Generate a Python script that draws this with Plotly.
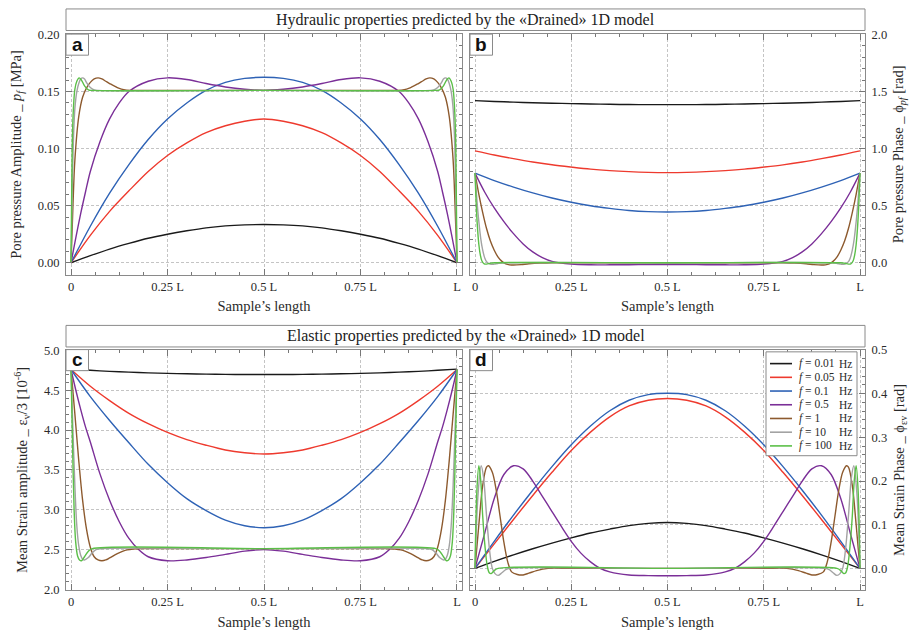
import plotly.graph_objects as go

W, H = 913, 642

# ---------------- data ----------------
XA = [0, 0.05, 0.1, 0.15, 0.2, 0.25, 0.3, 0.35, 0.4, 0.45, 0.5,
      0.55, 0.6, 0.65, 0.7, 0.75, 0.8, 0.85, 0.9, 0.95, 1.0]

FREQ_VALUES = ["0.01", "0.05", "0.1", "0.5", "1", "10", "100"]
FREQ_UNIT = "Hz"

# Panel a: pore pressure amplitude [MPa]
a_black = [0, 0.0062, 0.012, 0.017, 0.0215, 0.025, 0.028, 0.0306, 0.0323, 0.0332, 0.0335,
           0.0332, 0.0323, 0.0306, 0.028, 0.025, 0.0215, 0.017, 0.012, 0.0062, 0]
a_red = [0, 0.024, 0.045, 0.063, 0.080, 0.094, 0.105, 0.114, 0.120, 0.124, 0.126,
         0.124, 0.120, 0.114, 0.105, 0.094, 0.080, 0.063, 0.045, 0.024, 0]
a_blue = [0, 0.032, 0.061, 0.086, 0.108, 0.126, 0.140, 0.151, 0.158, 0.1615, 0.1625,
          0.1615, 0.158, 0.151, 0.140, 0.126, 0.108, 0.086, 0.061, 0.032, 0]
a_purple_x = [0, 0.0125, 0.025, 0.0375, 0.05, 0.075, 0.1, 0.125, 0.15, 0.2, 0.25, 0.3, 0.35, 0.4, 0.45, 0.5,
              0.55, 0.6, 0.65, 0.7, 0.75, 0.8, 0.85, 0.875, 0.9, 0.925, 0.95, 0.9625, 0.975, 0.9875, 1]
a_purple = [0, 0.022, 0.043, 0.062, 0.080, 0.106, 0.126, 0.140, 0.150, 0.159, 0.162, 0.1605, 0.157, 0.154, 0.152, 0.151,
            0.152, 0.154, 0.157, 0.1605, 0.162, 0.159, 0.150, 0.140, 0.126, 0.106, 0.080, 0.062, 0.043, 0.022, 0]
a_brown_x = [0, 0.005, 0.01, 0.02, 0.03, 0.04, 0.05, 0.06, 0.07, 0.08, 0.09, 0.1, 0.12, 0.14, 0.17, 0.2, 0.5,
             0.8, 0.83, 0.86, 0.88, 0.9, 0.91, 0.92, 0.93, 0.94, 0.95, 0.96, 0.97, 0.98, 0.99, 0.995, 1]
a_brown = [0, 0.05, 0.09, 0.128, 0.145, 0.153, 0.158, 0.161, 0.162, 0.161, 0.159, 0.157, 0.1535, 0.1515, 0.151, 0.151, 0.151,
           0.151, 0.151, 0.1515, 0.1535, 0.157, 0.159, 0.161, 0.162, 0.161, 0.158, 0.153, 0.145, 0.128, 0.09, 0.05, 0]
a_gray_x = [0, 0.003, 0.006, 0.01, 0.015, 0.02, 0.025, 0.03, 0.035, 0.04, 0.05, 0.06, 0.07, 0.5,
            0.93, 0.94, 0.95, 0.96, 0.965, 0.97, 0.975, 0.98, 0.985, 0.99, 0.994, 0.997, 1]
a_gray = [0, 0.06, 0.105, 0.135, 0.150, 0.157, 0.161, 0.162, 0.161, 0.158, 0.1535, 0.1515, 0.151, 0.151,
          0.151, 0.1515, 0.1535, 0.158, 0.161, 0.162, 0.161, 0.157, 0.150, 0.135, 0.105, 0.06, 0]
a_green_x = [0, 0.002, 0.004, 0.007, 0.01, 0.015, 0.021, 0.027, 0.035, 0.045, 0.055, 0.5,
             0.945, 0.955, 0.965, 0.973, 0.979, 0.985, 0.99, 0.993, 0.996, 0.998, 1]
a_green = [0, 0.07, 0.115, 0.14, 0.152, 0.159, 0.162, 0.160, 0.155, 0.1515, 0.151, 0.151,
           0.151, 0.1515, 0.155, 0.160, 0.162, 0.159, 0.152, 0.14, 0.115, 0.07, 0]

# Panel b: pore pressure phase [rad]
b_black = [1.42, 1.413, 1.407, 1.402, 1.398, 1.394, 1.391, 1.388, 1.386, 1.385, 1.385,
           1.385, 1.386, 1.388, 1.391, 1.394, 1.398, 1.402, 1.407, 1.413, 1.42]
b_red = [0.98, 0.944, 0.912, 0.883, 0.858, 0.838, 0.820, 0.807, 0.798, 0.792, 0.790,
         0.792, 0.798, 0.807, 0.820, 0.838, 0.858, 0.883, 0.912, 0.944, 0.98]
b_blue = [0.785, 0.72, 0.663, 0.612, 0.567, 0.530, 0.499, 0.476, 0.458, 0.448, 0.445,
          0.448, 0.458, 0.476, 0.499, 0.530, 0.567, 0.612, 0.663, 0.72, 0.785]
b_purple_x = [0, 0.025, 0.05, 0.075, 0.1, 0.125, 0.15, 0.175, 0.2, 0.25, 0.3, 0.35, 0.4, 0.45, 0.5,
              0.55, 0.6, 0.65, 0.7, 0.75, 0.8, 0.825, 0.85, 0.875, 0.9, 0.925, 0.95, 0.975, 1]
b_purple = [0.785, 0.62, 0.48, 0.36, 0.255, 0.165, 0.095, 0.045, 0.012, -0.012, -0.018, -0.018, -0.017, -0.016, -0.015,
            -0.016, -0.017, -0.018, -0.018, -0.012, 0.012, 0.045, 0.095, 0.165, 0.255, 0.36, 0.48, 0.62, 0.785]
b_brown_x = [0, 0.01, 0.02, 0.03, 0.04, 0.05, 0.06, 0.07, 0.08, 0.09, 0.1, 0.12, 0.14, 0.17, 0.2, 0.5,
             0.8, 0.83, 0.86, 0.88, 0.9, 0.91, 0.92, 0.93, 0.94, 0.95, 0.96, 0.97, 0.98, 0.99, 1]
b_brown = [0.785, 0.6, 0.44, 0.3, 0.19, 0.11, 0.05, 0.012, -0.01, -0.018, -0.02, -0.016, -0.009, -0.003, 0, 0,
           0, -0.003, -0.009, -0.016, -0.02, -0.018, -0.01, 0.012, 0.05, 0.11, 0.19, 0.3, 0.44, 0.6, 0.785]
b_gray_x = [0, 0.005, 0.01, 0.015, 0.02, 0.025, 0.03, 0.04, 0.05, 0.06, 0.08, 0.5,
            0.92, 0.94, 0.95, 0.96, 0.97, 0.975, 0.98, 0.985, 0.99, 0.995, 1]
b_gray = [0.785, 0.55, 0.36, 0.21, 0.11, 0.045, 0.01, -0.012, -0.012, -0.006, 0, 0,
          0, -0.006, -0.012, -0.012, 0.01, 0.045, 0.11, 0.21, 0.36, 0.55, 0.785]
b_green_x = [0, 0.003, 0.006, 0.01, 0.014, 0.018, 0.024, 0.03, 0.04, 0.05, 0.5,
             0.95, 0.96, 0.97, 0.976, 0.982, 0.986, 0.99, 0.994, 0.997, 1]
b_green = [0.785, 0.52, 0.33, 0.16, 0.065, 0.015, -0.01, -0.012, -0.004, 0, 0,
           0, -0.004, -0.012, -0.01, 0.015, 0.065, 0.16, 0.33, 0.52, 0.785]

# Panel c: mean strain amplitude [1e-6]
c_black = [4.765, 4.75, 4.737, 4.727, 4.718, 4.711, 4.706, 4.702, 4.699, 4.698, 4.698,
           4.698, 4.699, 4.702, 4.706, 4.711, 4.718, 4.727, 4.737, 4.75, 4.765]
c_red = [4.76, 4.55, 4.37, 4.21, 4.08, 3.97, 3.88, 3.81, 3.75, 3.715, 3.70,
         3.715, 3.75, 3.81, 3.88, 3.97, 4.08, 4.21, 4.37, 4.55, 4.76]
c_blue = [4.76, 4.42, 4.12, 3.84, 3.57, 3.34, 3.14, 2.99, 2.87, 2.80, 2.775,
          2.80, 2.87, 2.99, 3.14, 3.34, 3.57, 3.84, 4.12, 4.42, 4.76]
c_purple_x = [0, 0.0125, 0.025, 0.0375, 0.05, 0.075, 0.1, 0.125, 0.15, 0.175, 0.2, 0.25, 0.3, 0.35, 0.4, 0.45, 0.5,
              0.55, 0.6, 0.65, 0.7, 0.75, 0.8, 0.825, 0.85, 0.875, 0.9, 0.925, 0.95, 0.9625, 0.975, 0.9875, 1]
c_purple = [4.76, 4.5, 4.26, 4.04, 3.85, 3.45, 3.12, 2.85, 2.64, 2.50, 2.41, 2.36, 2.37, 2.40, 2.44, 2.48, 2.50,
            2.48, 2.44, 2.40, 2.37, 2.36, 2.41, 2.50, 2.64, 2.85, 3.12, 3.45, 3.85, 4.04, 4.26, 4.5, 4.76]
c_brown_x = [0, 0.01, 0.02, 0.03, 0.04, 0.05, 0.06, 0.07, 0.08, 0.09, 0.1, 0.12, 0.14, 0.17, 0.2, 0.5,
             0.8, 0.83, 0.86, 0.88, 0.9, 0.91, 0.92, 0.93, 0.94, 0.95, 0.96, 0.97, 0.98, 0.99, 1]
c_brown = [4.76, 4.2, 3.62, 3.12, 2.76, 2.53, 2.41, 2.37, 2.36, 2.37, 2.395, 2.45, 2.49, 2.51, 2.512, 2.512,
           2.512, 2.51, 2.49, 2.45, 2.395, 2.37, 2.36, 2.37, 2.41, 2.53, 2.76, 3.12, 3.62, 4.2, 4.76]
c_gray_x = [0, 0.005, 0.01, 0.015, 0.02, 0.025, 0.03, 0.035, 0.045, 0.055, 0.065, 0.08, 0.5,
            0.92, 0.935, 0.945, 0.955, 0.965, 0.97, 0.975, 0.98, 0.985, 0.99, 0.995, 1]
c_gray = [4.76, 4.0, 3.3, 2.8, 2.55, 2.43, 2.38, 2.37, 2.40, 2.46, 2.50, 2.512, 2.512,
          2.512, 2.50, 2.46, 2.40, 2.37, 2.38, 2.43, 2.55, 2.8, 3.3, 4.0, 4.76]
c_green_x = [0, 0.004, 0.008, 0.012, 0.017, 0.022, 0.027, 0.035, 0.045, 0.055, 0.5,
             0.945, 0.955, 0.965, 0.973, 0.978, 0.983, 0.988, 0.992, 0.996, 1]
c_green = [4.76, 3.8, 3.0, 2.6, 2.42, 2.37, 2.36, 2.41, 2.48, 2.512, 2.512,
           2.512, 2.48, 2.41, 2.36, 2.37, 2.42, 2.6, 3.0, 3.8, 4.76]

# Panel d: mean strain phase [rad]
d_black = [0, 0.016, 0.031, 0.045, 0.058, 0.070, 0.081, 0.090, 0.098, 0.103, 0.105,
           0.103, 0.098, 0.090, 0.081, 0.070, 0.058, 0.045, 0.031, 0.016, 0]
d_red = [0, 0.056, 0.112, 0.167, 0.220, 0.270, 0.312, 0.347, 0.372, 0.385, 0.389,
         0.385, 0.372, 0.347, 0.312, 0.270, 0.220, 0.167, 0.112, 0.056, 0]
d_blue = [0, 0.062, 0.122, 0.179, 0.233, 0.283, 0.326, 0.361, 0.385, 0.398, 0.401,
          0.398, 0.385, 0.361, 0.326, 0.283, 0.233, 0.179, 0.122, 0.062, 0]
d_purple_x = [0, 0.025, 0.05, 0.075, 0.1, 0.125, 0.15, 0.175, 0.2, 0.225, 0.25, 0.275, 0.3, 0.325, 0.35, 0.4, 0.45, 0.5,
              0.55, 0.6, 0.65, 0.675, 0.7, 0.725, 0.75, 0.775, 0.8, 0.825, 0.85, 0.875, 0.9, 0.925, 0.95, 0.975, 1]
d_purple = [0, 0.08, 0.16, 0.215, 0.235, 0.228, 0.20, 0.165, 0.13, 0.095, 0.062, 0.035, 0.015, 0.0, -0.008, -0.015, -0.0165, -0.017,
            -0.0165, -0.015, -0.008, 0.0, 0.015, 0.035, 0.062, 0.095, 0.13, 0.165, 0.20, 0.228, 0.235, 0.215, 0.16, 0.08, 0]
d_brown_x = [0, 0.01, 0.02, 0.03, 0.035, 0.045, 0.055, 0.065, 0.075, 0.085, 0.095, 0.11, 0.125, 0.14, 0.16, 0.19, 0.25, 0.5,
             0.75, 0.81, 0.84, 0.86, 0.875, 0.89, 0.905, 0.915, 0.925, 0.935, 0.945, 0.955, 0.965, 0.97, 0.98, 0.99, 1]
d_brown = [0, 0.10, 0.19, 0.232, 0.235, 0.22, 0.18, 0.12, 0.06, 0.015, -0.008, -0.014, -0.015, -0.011, -0.005, 0, 0, 0,
           0, 0, -0.005, -0.011, -0.015, -0.014, -0.008, 0.015, 0.06, 0.12, 0.18, 0.22, 0.235, 0.232, 0.19, 0.10, 0]
d_gray_x = [0, 0.008, 0.016, 0.022, 0.03, 0.038, 0.045, 0.052, 0.06, 0.07, 0.08, 0.09, 0.5,
            0.91, 0.92, 0.93, 0.94, 0.948, 0.955, 0.962, 0.97, 0.978, 0.984, 0.992, 1]
d_gray = [0, 0.17, 0.235, 0.21, 0.12, 0.04, 0.0, -0.012, -0.016, -0.01, -0.003, 0, 0,
          0, -0.003, -0.01, -0.016, -0.012, 0.0, 0.04, 0.12, 0.21, 0.235, 0.17, 0]
d_green_x = [0, 0.005, 0.01, 0.015, 0.02, 0.026, 0.032, 0.037, 0.042, 0.05, 0.06, 0.5,
             0.94, 0.95, 0.958, 0.963, 0.968, 0.974, 0.98, 0.985, 0.99, 0.995, 1]
d_green = [0, 0.18, 0.235, 0.2, 0.12, 0.05, 0.005, -0.01, -0.012, -0.005, 0, 0,
           0, -0.005, -0.012, -0.01, 0.005, 0.05, 0.12, 0.2, 0.235, 0.18, 0]

X_TICKVALS = [0, 0.25, 0.5, 0.75, 1]
X_TICKTEXT = ["0", "0.25 L", "0.5 L", "0.75 L", "L"]

COLORS = ["#1a1a1a", "#ee3a2e", "#2e62b5", "#7b2f98", "#8d5a2e", "#a3a3a3", "#5bbf48"]

panels = {
    "a": [(XA, a_black), (XA, a_red), (XA, a_blue), (a_purple_x, a_purple),
          (a_brown_x, a_brown), (a_gray_x, a_gray), (a_green_x, a_green)],
    "b": [(XA, b_black), (XA, b_red), (XA, b_blue), (b_purple_x, b_purple),
          (b_brown_x, b_brown), (b_gray_x, b_gray), (b_green_x, b_green)],
    "c": [(XA, c_black), (XA, c_red), (XA, c_blue), (c_purple_x, c_purple),
          (c_brown_x, c_brown), (c_gray_x, c_gray), (c_green_x, c_green)],
    "d": [(XA, d_black), (XA, d_red), (XA, d_blue), (d_purple_x, d_purple),
          (d_brown_x, d_brown), (d_gray_x, d_gray), (d_green_x, d_green)],
}
axis_ids = {"a": ("x", "y"), "b": ("x2", "y2"), "c": ("x3", "y3"), "d": ("x4", "y4")}

fig = go.Figure()
for key, series in panels.items():
    xa, ya = axis_ids[key]
    for i, (xs, ys) in enumerate(series):
        fig.add_trace(go.Scatter(
            x=xs, y=ys, mode="lines", name="f = %s %s" % (FREQ_VALUES[i], FREQ_UNIT),
            line=dict(color=COLORS[i], width=1.4, shape="spline", smoothing=0.9),
            xaxis=xa, yaxis=ya, showlegend=False, hoverinfo="skip"))

SERIF = "Liberation Serif, Times New Roman, serif"
TXT = "#2a2a2a"


def px_x(v):
    return v / W


def px_y(v):
    return 1 - v / H


XDOM_L = [px_x(66), px_x(462)]
XDOM_R = [px_x(470), px_x(865)]
YDOM_T = [px_y(274.3), px_y(28.7)]
YDOM_B = [px_y(596.3), px_y(350.7)]

grid = dict(showgrid=True, gridcolor="#c4c4c4", griddash="3px,2px", gridwidth=1, zeroline=False,
            showline=True, linecolor="#8a8a8a", linewidth=1, mirror="ticks",
            ticks="inside", ticklen=6, tickcolor="#777", tickwidth=1,
            tickfont=dict(family=SERIF, size=12.5, color=TXT))


def xaxis(domain, anchor):
    d = dict(grid)
    d.update(domain=domain, anchor=anchor, range=[-0.013, 1.013],
             tickmode="array", tickvals=X_TICKVALS, ticktext=X_TICKTEXT,
             minor=dict(tickmode="linear", tick0=0, dtick=0.0625, ticks="inside", ticklen=3,
                        tickcolor="#777", showgrid=False),
             title=dict(text="Sample’s length", font=dict(family=SERIF, size=14.5, color=TXT), standoff=8))
    return d


def yaxis(domain, anchor, rng, dtick, fmt, mdt, title, side, standoff):
    d = dict(grid)
    d.update(domain=domain, anchor=anchor, range=rng, tick0=0, dtick=dtick, tickformat=fmt, side=side,
             ticklabelstandoff=3,
             minor=dict(tickmode="linear", tick0=0, dtick=mdt, ticks="inside", ticklen=3,
                        tickcolor="#777", showgrid=False),
             title=dict(text=title, font=dict(family=SERIF, size=14.5, color=TXT), standoff=standoff))
    return d


fig.update_layout(
    width=W, height=H, autosize=False,
    margin=dict(l=0, r=0, t=0, b=0),
    paper_bgcolor="white", plot_bgcolor="white",
    xaxis=xaxis(XDOM_L, "y"),
    xaxis2=xaxis(XDOM_R, "y2"),
    xaxis3=xaxis(XDOM_L, "y3"),
    xaxis4=xaxis(XDOM_R, "y4"),
    yaxis=yaxis(YDOM_T, "x", [-0.0105, 0.2003], 0.05, ".2f", 0.01,
                "Pore pressure Amplitude _ <i>p<sub>f</sub></i> [MPa]", "left", 12),
    yaxis2=yaxis(YDOM_T, "x2", [-0.105, 2.003], 0.5, ".1f", 0.1,
                 "Pore pressure Phase _ ϕ<sub><i>pf</i></sub> [rad]", "right", 6),
    yaxis3=yaxis(YDOM_B, "x3", [1.99, 5.01], 0.5, ".1f", 0.1,
                 "Mean Strain amplitude _ ε<sub>v</sub>/3 [10<sup>-6</sup>]", "left", 12),
    yaxis4=yaxis(YDOM_B, "x4", [-0.05, 0.501], 0.1, ".1f", 0.02,
                 "Mean Strain Phase _ ϕ<sub>εv</sub> [rad]", "right", 6),
    showlegend=False,
)

shapes = []
annotations = []
# title boxes
for (y0, y1, text) in [(3, 25, "Hydraulic properties predicted by the «Drained» 1D model"),
                       (326, 348, "Elastic properties predicted by the «Drained» 1D model")]:
    shapes.append(dict(type="rect", xref="paper", yref="paper", x0=px_x(66), x1=px_x(865),
                       y0=px_y(y1), y1=px_y(y0), line=dict(color="#8a8a8a", width=1), fillcolor="white"))
    annotations.append(dict(xref="paper", yref="paper", x=px_x(465.5), y=px_y((y0 + y1) / 2),
                            text=text, showarrow=False, xanchor="center", yanchor="middle",
                            font=dict(family=SERIF, size=16, color="#222")))
# panel letter boxes
for (letter, x0, y0) in [("a", 66, 28.7), ("b", 470, 28.7), ("c", 66, 350.7), ("d", 470, 350.7)]:
    shapes.append(dict(type="rect", xref="paper", yref="paper", x0=px_x(x0), x1=px_x(x0 + 22.5),
                       y0=px_y(y0 + 21.5), y1=px_y(y0), line=dict(color="#8a8a8a", width=1), fillcolor="white"))
    annotations.append(dict(xref="paper", yref="paper", x=px_x(x0 + 11.2), y=px_y(y0 + 10.5),
                            text="<b>%s</b>" % letter, showarrow=False, xanchor="center", yanchor="middle",
                            font=dict(family="Liberation Sans, Arial, sans-serif", size=19, color="#111")))

# legend box inside panel d (compact, as in the reference)
LEG_X0, LEG_X1, LEG_Y0, LEG_Y1 = 766, 857, 353, 459
shapes.append(dict(type="rect", xref="paper", yref="paper", x0=px_x(LEG_X0), x1=px_x(LEG_X1),
                   y0=px_y(LEG_Y1), y1=px_y(LEG_Y0), line=dict(color="#8a8a8a", width=1), fillcolor="white"))
for i, val in enumerate(FREQ_VALUES):
    yc = 365 + 14.0 * i
    shapes.append(dict(type="line", xref="paper", yref="paper", x0=px_x(770), x1=px_x(792),
                       y0=px_y(yc), y1=px_y(yc), line=dict(color=COLORS[i], width=1.6)))
    annotations.append(dict(xref="paper", yref="paper", x=px_x(797), y=px_y(yc),
                            text="<i>f</i> = %s" % val, showarrow=False, xanchor="left", yanchor="middle",
                            font=dict(family=SERIF, size=11.5, color=TXT)))
    annotations.append(dict(xref="paper", yref="paper", x=px_x(837), y=px_y(yc),
                            text=FREQ_UNIT, showarrow=False, xanchor="left", yanchor="middle",
                            font=dict(family=SERIF, size=11.5, color=TXT)))

fig.update_layout(shapes=shapes, annotations=annotations)
fig.write_html("out.html", config={"displayModeBar": False},
               post_script="document.body.style.margin='0';document.body.style.padding='0';")
